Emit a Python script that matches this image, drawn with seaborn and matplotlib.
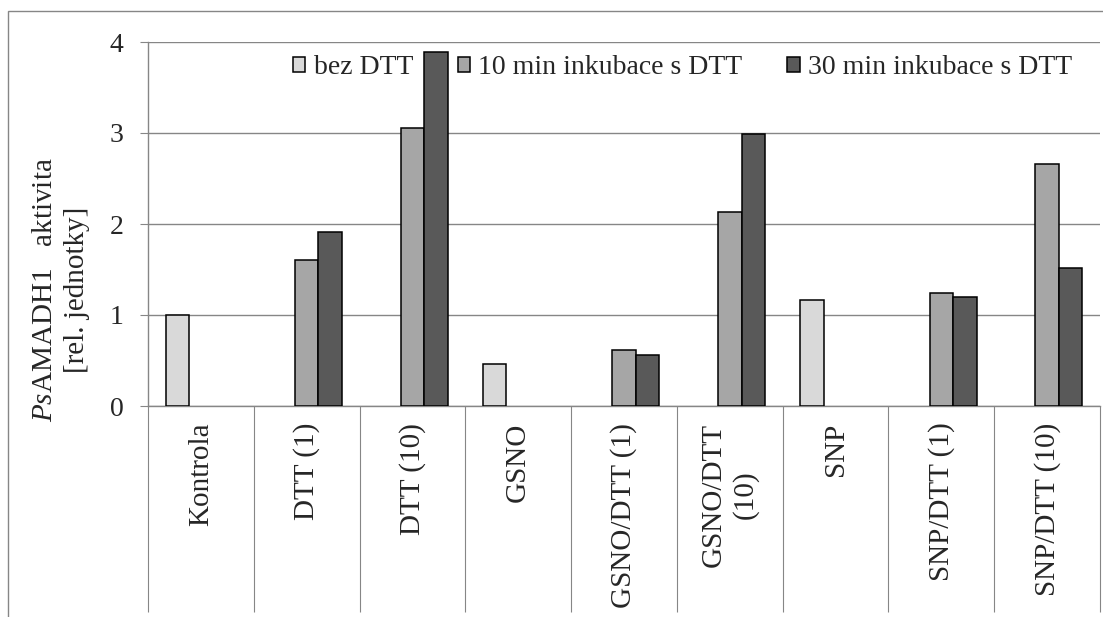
import numpy as np
import pandas as pd
import matplotlib
matplotlib.use("Agg")
import matplotlib.pyplot as plt
from matplotlib.patches import Rectangle
import seaborn as sns

# Relative PsAMADH1 activity per treatment and incubation time with DTT
categories = ["Kontrola", "DTT (1)", "DTT (10)", "GSNO", "GSNO/DTT (1)",
              "GSNO/DTT\n(10)", "SNP", "SNP/DTT (1)", "SNP/DTT (10)"]
series_names = ["bez DTT", "10 min inkubace s DTT", "30 min inkubace s DTT"]
bez_dtt = [1.00, np.nan, np.nan, 0.46, np.nan, np.nan, 1.16, np.nan, np.nan]
inkubace_10 = [np.nan, 1.60, 3.06, np.nan, 0.61, 2.13, np.nan, 1.24, 2.66]
inkubace_30 = [np.nan, 1.91, 3.89, np.nan, 0.56, 2.99, np.nan, 1.20, 1.52]
y_ticks = [0, 1, 2, 3, 4]

rows = []
for name, values in zip(series_names, [bez_dtt, inkubace_10, inkubace_30]):
    for cat, v in zip(categories, values):
        if not np.isnan(v):
            rows.append({"kategorie": cat, "serie": name, "hodnota": v})
df = pd.DataFrame(rows)

sns.set_style("white")
plt.rcParams["font.family"] = ["Liberation Serif", "DejaVu Serif"]
plt.rcParams["mathtext.fontset"] = "custom"
plt.rcParams["mathtext.rm"] = "Liberation Serif"
plt.rcParams["mathtext.it"] = "Liberation Serif:italic"

W, H = 1103, 617
fig = plt.figure(figsize=(W / 100, H / 100), dpi=100)
ax = fig.add_axes([148 / W, 1 - 406 / H, (1100 - 148) / W, (406 - 42) / H])

grey = "#868686"
palette = ["#D9D9D9", "#A6A6A6", "#595959"]

sns.barplot(data=df, x="kategorie", y="hodnota", hue="serie",
            order=categories, hue_order=series_names, palette=palette,
            width=0.667, dodge=True, edgecolor="black", linewidth=1.1,
            saturation=1, errorbar=None, ax=ax, zorder=3)

ax.set_xlim(-0.5, len(categories) - 0.5)
ax.set_ylim(0, 4)
ax.set_yticks(y_ticks)
ax.set_yticklabels([str(t) for t in y_ticks], fontsize=20)
ax.yaxis.grid(True, color=grey, linewidth=1.0, zorder=0)
ax.set_axisbelow(True)

for side in ["top", "right"]:
    ax.spines[side].set_visible(False)
for side in ["left", "bottom"]:
    ax.spines[side].set_color(grey)
    ax.spines[side].set_linewidth(1.0)

ax.tick_params(axis="y", left=True, direction="out", length=5.8, width=0.8,
               color=grey, pad=12, labelsize=20)

# Category labels at centres, long divider ticks at category boundaries
ax.set_xticks(range(len(categories)))
ax.set_xticklabels(categories, rotation=90, fontsize=21, va="top",
                   ha="center", multialignment="center")
ax.tick_params(axis="x", which="major", bottom=True, length=0, pad=12)
ax.set_xticks(np.arange(-0.5, len(categories), 1.0), minor=True)
ax.tick_params(axis="x", which="minor", bottom=True, direction="out",
               length=148, width=0.8, color=grey)

ax.set_xlabel("")
ax.set_ylabel("$\\mathit{Ps}$AMADH1   aktivita\n[rel. jednotky]", fontsize=21,
              linespacing=1.3)
ax.yaxis.label.set_va("center")
ax.yaxis.set_label_coords(-0.0914, 0.319)

leg = ax.legend(loc="center", bbox_to_anchor=(0.5614, 0.9286), ncol=3,
                frameon=False, fontsize=20, handlelength=0.45,
                handleheight=0.45, handletextpad=0.3, columnspacing=1.6,
                borderpad=0.2)
for h in leg.legend_handles:
    h.set_edgecolor("black")
    h.set_linewidth(1.1)

# Chart area border
fig.patches.append(Rectangle((8 / W, -0.1), 1.2, 1 - 11 / H + 0.1,
                             transform=fig.transFigure, fill=False,
                             edgecolor=grey, linewidth=1.0, zorder=0))

fig.savefig("out.png", dpi=100, facecolor="white")
